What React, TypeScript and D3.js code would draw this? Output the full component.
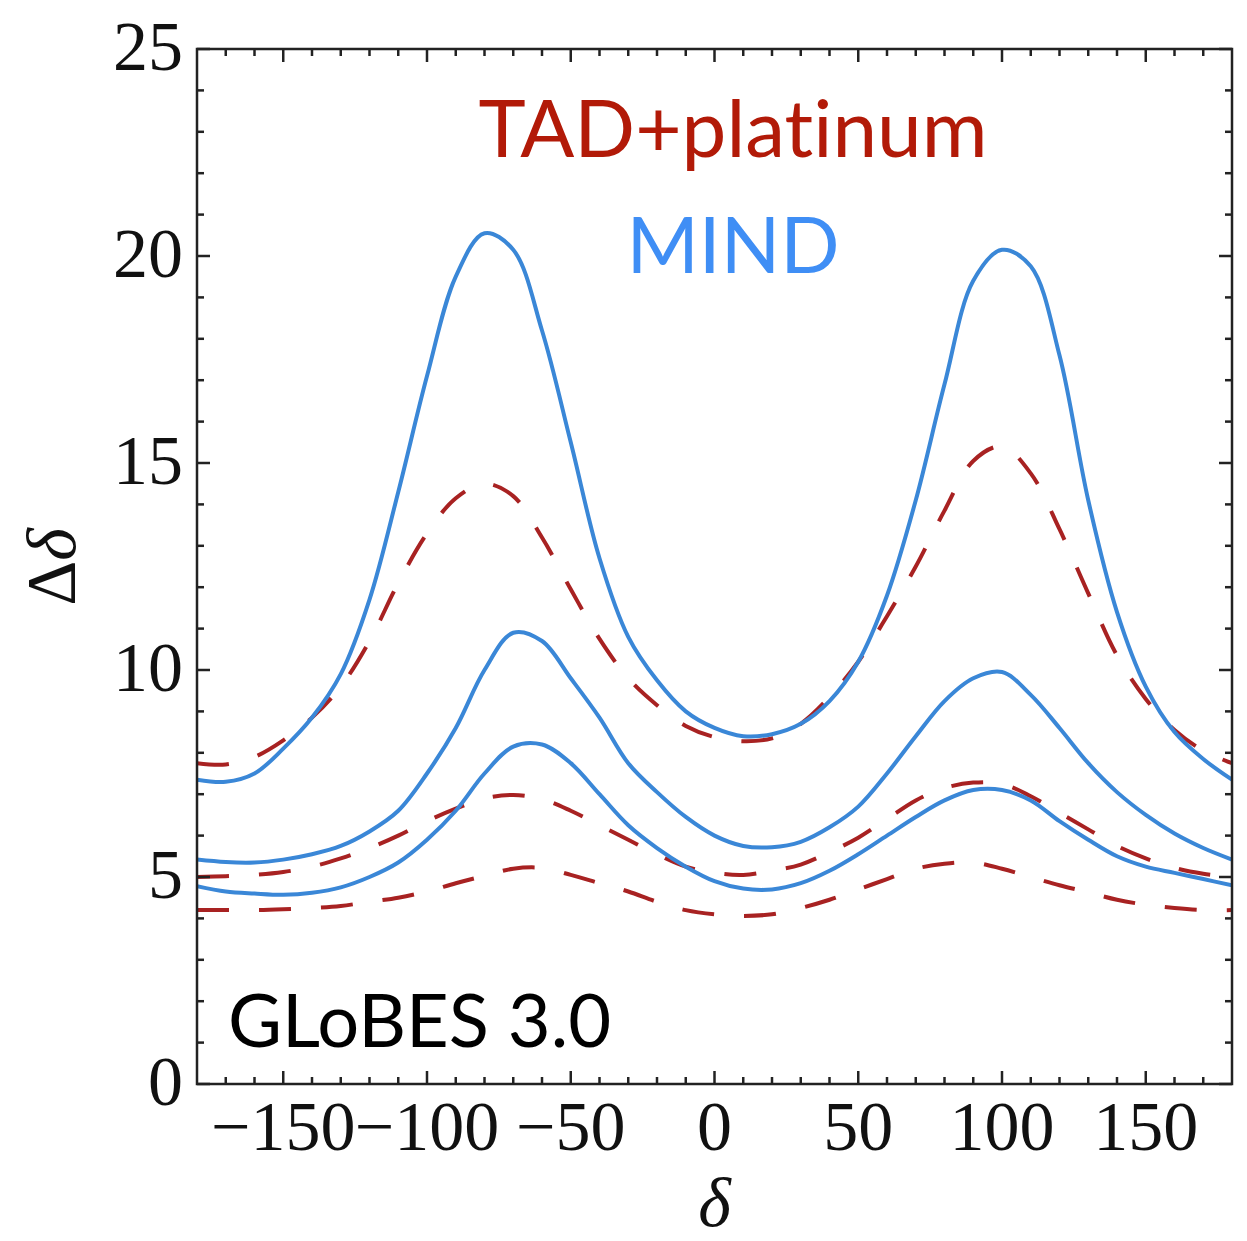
import React from "react";
import * as d3 from "d3";

// delta grid (degrees) and the six curves
const delta = [
  -180, -170, -160, -150, -140, -130, -120, -110, -100, -90, -80, -70, -60, -50, -40, -30, -20, -10, 0,
  10, 20, 30, 40, 50, 60, 70, 80, 90, 100, 110, 120, 130, 140, 150, 160, 170, 180,
];

const mindHigh = [
  7.35, 7.3, 7.5, 8.1, 8.85, 9.9, 11.7, 14.3, 17.1, 19.5, 20.55, 20.15, 18.2, 15.5, 12.7, 10.8, 9.75, 9.0, 8.6,
  8.4, 8.45, 8.7, 9.25, 10.2, 11.8, 14.1, 16.9, 19.4, 20.15, 19.75, 17.6, 14.1, 11.4, 9.6, 8.5, 7.85, 7.35,
];
const mindMid = [
  5.42, 5.36, 5.35, 5.42, 5.55, 5.75, 6.1, 6.6, 7.5, 8.6, 10.0, 10.9, 10.7, 9.8, 8.85, 7.75, 7.05, 6.45, 6.0,
  5.75, 5.72, 5.85, 6.2, 6.7, 7.5, 8.4, 9.25, 9.8, 9.95, 9.4, 8.6, 7.75, 7.05, 6.5, 6.05, 5.7, 5.42,
];
const mindLow = [
  4.78, 4.65, 4.6, 4.57, 4.62, 4.75, 5.0, 5.35, 5.9, 6.6, 7.5, 8.15, 8.2, 7.75, 7.0, 6.25, 5.7, 5.25, 4.9,
  4.72, 4.7, 4.85, 5.15, 5.55, 6.0, 6.45, 6.85, 7.1, 7.1, 6.85, 6.35, 5.9, 5.5, 5.25, 5.1, 4.95, 4.8,
];
const tadHigh = [
  7.75, 7.72, 7.9, 8.3, 8.85, 9.6, 10.7, 12.1, 13.3, 14.15, 14.5, 14.2, 13.2, 11.95, 10.75, 9.8, 9.15, 8.65, 8.38,
  8.28, 8.35, 8.7, 9.35, 10.2, 11.3, 12.5, 13.85, 15.05, 15.4, 14.75, 13.4, 11.85, 10.35, 9.3, 8.55, 8.05, 7.75,
];
const tadMid = [
  5.0, 5.02, 5.05, 5.12, 5.25, 5.45, 5.7, 6.0, 6.35, 6.65, 6.9, 6.98, 6.88, 6.6, 6.25, 5.9, 5.55, 5.25, 5.1,
  5.05, 5.15, 5.3, 5.6, 5.95, 6.4, 6.85, 7.15, 7.28, 7.25, 6.95, 6.55, 6.15, 5.75, 5.45, 5.22, 5.08, 5.0,
];
const tadLow = [
  4.2, 4.2, 4.2, 4.22, 4.25, 4.3, 4.4, 4.5, 4.65, 4.85, 5.03, 5.2, 5.22, 5.05, 4.85, 4.65, 4.4, 4.2, 4.1,
  4.06, 4.1, 4.25, 4.45, 4.7, 4.95, 5.2, 5.32, 5.35, 5.2, 5.0, 4.8, 4.63, 4.45, 4.33, 4.25, 4.2, 4.2,
];

const xTicks = [-150, -100, -50, 0, 50, 100, 150];
const yTicks = [0, 5, 10, 15, 20, 25];

const W = 1247;
const H = 1241;
const blue = "#3a87d7";
const red = "#a82222";
const serif = "'Liberation Serif', 'Times New Roman', serif";
const sans = "Lato, 'Open Sans', sans-serif";

const fmt = (v: number) => (v < 0 ? "\u2212" + Math.abs(v) : String(v));

export default function App() {
  const x = d3.scaleLinear().domain([-180, 180]).range([197, 1232]);
  const y = d3.scaleLinear().domain([0, 25]).range([1084, 49]);
  const [x0, x1] = x.range();
  const [y0, y1] = y.range();

  const line = d3
    .line<number>()
    .x((_, i) => x(delta[i]))
    .y((d) => y(d))
    .curve(d3.curveCatmullRom.alpha(0.5));

  const xMinor = x.ticks(36).filter((t) => t % 50 !== 0 && t > -180 && t < 180);
  const yMinor = y.ticks(25).filter((t) => t % 5 !== 0);

  const solid = [mindHigh, mindMid, mindLow];
  const dashed = [tadHigh, tadMid, tadLow];

  return (
    <svg
      width={W}
      height={H}
      style={{ position: "absolute", left: 0, top: 0, background: "#fff" }}
    >
      <defs>
        <clipPath id="plot">
          <rect x={x0} y={y1} width={x1 - x0} height={y0 - y1} />
        </clipPath>
      </defs>

      <g clipPath="url(#plot)" fill="none" strokeWidth={4}>
        {dashed.map((s, i) => (
          <path key={"t" + i} d={line(s) ?? ""} stroke={red} strokeDasharray="32 30" />
        ))}
        {solid.map((s, i) => (
          <path key={"m" + i} d={line(s) ?? ""} stroke={blue} />
        ))}
      </g>

      {/* ticks on all four sides */}
      <g stroke="#222" strokeWidth={2.5}>
        {xTicks.map((t) => (
          <g key={"xt" + t}>
            <line x1={x(t)} x2={x(t)} y1={y0} y2={y0 - 13} />
            <line x1={x(t)} x2={x(t)} y1={y1} y2={y1 + 13} />
          </g>
        ))}
        {xMinor.map((t) => (
          <g key={"xm" + t}>
            <line x1={x(t)} x2={x(t)} y1={y0} y2={y0 - 7} />
            <line x1={x(t)} x2={x(t)} y1={y1} y2={y1 + 7} />
          </g>
        ))}
        {yTicks.map((t) => (
          <g key={"yt" + t}>
            <line x1={x0} x2={x0 + 13} y1={y(t)} y2={y(t)} />
            <line x1={x1} x2={x1 - 13} y1={y(t)} y2={y(t)} />
          </g>
        ))}
        {yMinor.map((t) => (
          <g key={"ym" + t}>
            <line x1={x0} x2={x0 + 7} y1={y(t)} y2={y(t)} />
            <line x1={x1} x2={x1 - 7} y1={y(t)} y2={y(t)} />
          </g>
        ))}
      </g>
      <rect x={x0} y={y1} width={x1 - x0} height={y0 - y1} fill="none" stroke="#222" strokeWidth={2.5} />

      <g fontFamily={serif} fontSize={70} fill="#111">
        {yTicks.map((t) => (
          <text key={"yl" + t} x={183} y={y(t) + 21} textAnchor="end">
            {fmt(t)}
          </text>
        ))}
        {xTicks.map((t) => (
          <text key={"xl" + t} x={x(t)} y={1150} textAnchor="middle">
            {fmt(t)}
          </text>
        ))}
        <text x={x(0)} y={1226} textAnchor="middle" fontStyle="italic">
          δ
        </text>
        <text transform="translate(75,567) rotate(-90)" textAnchor="middle">
          Δ<tspan fontStyle="italic">δ</tspan>
        </text>
      </g>

      <g fontFamily={sans} style={{ fontVariantLigatures: "none" }}>
        <text x={733} y={157} textAnchor="middle" fontSize={80} fill="#b21a08">
          TAD+platinum
        </text>
        <text x={733} y={273} textAnchor="middle" fontSize={78} fill="#3f8ef5">
          MIND
        </text>
        <text x={228} y={1047} fontSize={74} fill="#000">
          GLoBES 3.0
        </text>
      </g>
    </svg>
  );
}
